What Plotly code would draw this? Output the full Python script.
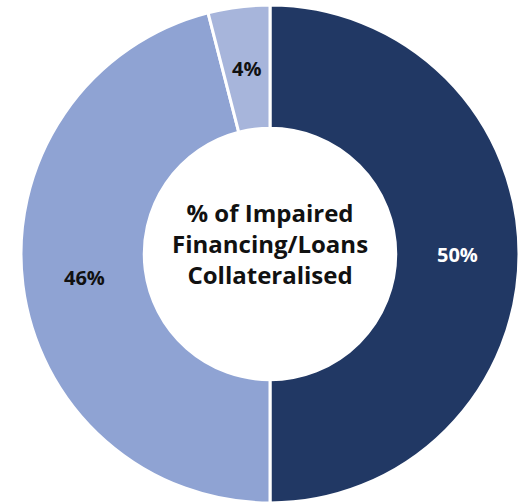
import math
import plotly.graph_objects as go

labels = ["Collateralised", "Uncollateralised", "Other"]
values = [50, 46, 4]
text_labels = ["50%", "46%", "4%"]
colors = ["#213864", "#8FA3D3", "#A7B5DB"]
text_colors = ["#FFFFFF", "#111111", "#111111"]
center_title = "% of Impaired<br>Financing/Loans<br>Collateralised"

W, H = 527, 504
cx, cy, r = 270, 254, 249
hole = 0.505
FONT = "Open Sans"

fig = go.Figure(go.Pie(
    labels=labels,
    values=values,
    textinfo="none",
    hole=hole,
    sort=False,
    direction="clockwise",
    rotation=0,
    marker=dict(colors=colors, line=dict(color="#FFFFFF", width=3)),
    domain=dict(x=[(cx - r) / W, (cx + r) / W], y=[(H - cy - r) / H, (H - cy + r) / H]),
    showlegend=False,
))

# slice labels placed at the middle of each ring segment (angles from data)
total = sum(values)
cum = 0
rm = r * (1 + hole) / 2
for v, t, c in zip(values, text_labels, text_colors):
    mid = (cum + v / 2) / total * 2 * math.pi
    cum += v
    px = cx + rm * math.sin(mid)
    py = cy - rm * math.cos(mid)
    fig.add_annotation(
        x=px / W, y=(H - py) / H, xref="paper", yref="paper",
        xanchor="center", yanchor="middle",
        text="<b>" + t + "</b>", showarrow=False,
        font=dict(family=FONT, size=20, color=c),
    )

fig.add_annotation(
    x=cx / W, y=(H - 244) / H, xref="paper", yref="paper",
    xanchor="center", yanchor="middle",
    text=center_title, showarrow=False,
    font=dict(family=FONT, size=24, color="#111111", weight=700),
    align="center",
)

fig.update_layout(
    width=W, height=H,
    margin=dict(l=0, r=0, t=0, b=0),
    paper_bgcolor="white", plot_bgcolor="white",
)

fig.write_html("out.html")
